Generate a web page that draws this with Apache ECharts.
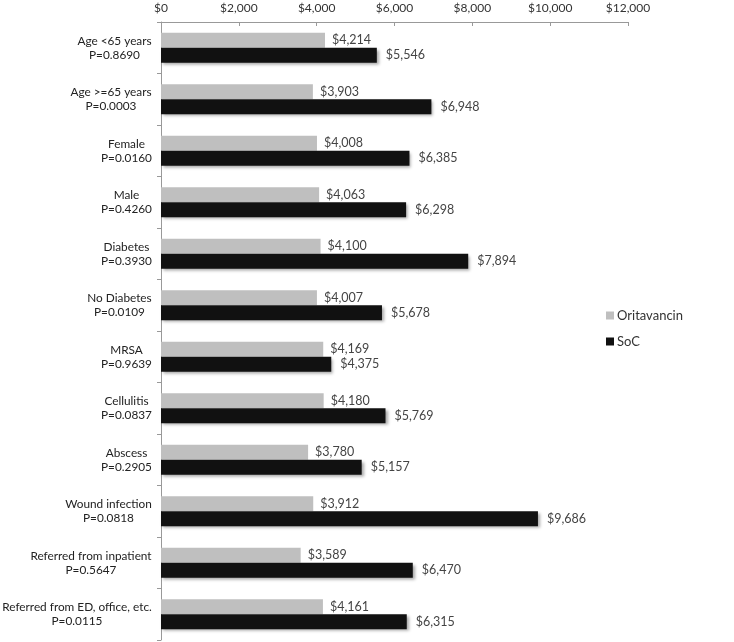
<!DOCTYPE html>
<html><head><meta charset="utf-8">
<script src="https://cdn.jsdelivr.net/npm/echarts@6/dist/echarts.min.js"></script>
<style>html,body{margin:0;padding:0;background:#fff}#c{width:734px;height:642px}</style>
</head><body><div id="c"></div>
<script>
const categories = ["Age <65 years","Age >=65 years","Female","Male","Diabetes","No Diabetes","MRSA","Cellulitis","Abscess","Wound infection","Referred from inpatient","Referred from ED, office, etc."];
const pValues = ["P=0.8690","P=0.0003","P=0.0160","P=0.4260","P=0.3930","P=0.0109","P=0.9639","P=0.0837","P=0.2905","P=0.0818","P=0.5647","P=0.0115"];
const oritavancin = [4214,3903,4008,4063,4100,4007,4169,4180,3780,3912,3589,4161];
const soc = [5546,6948,6385,6298,7894,5678,4375,5769,5157,9686,6470,6315];
const xTicks = [0,2000,4000,6000,8000,10000,12000];

const font = 'Lato';
const ySize = 11.8;
const money = v => '$' + Number(v).toLocaleString('en-US');
const cv = document.createElement('canvas').getContext('2d');
cv.font = ySize + 'px ' + font;
const rich = {};
categories.forEach((c,i)=>{
  const w = Math.ceil(Math.max(cv.measureText(c).width, cv.measureText(pValues[i]).width));
  rich['r'+i] = {width:w, align:'center', fontFamily:font, fontSize:ySize, color:'#222', lineHeight:14};
});
const chart = echarts.init(document.getElementById('c'));
chart.setOption({
  animation:false,
  textStyle:{fontFamily:font},
  grid:{left:161,right:106,top:22,bottom:2,outerBoundsMode:'none',containLabel:false},
  legend:{orient:'vertical',left:601,top:304,itemWidth:8,itemHeight:8,itemGap:13,icon:'rect',
    textStyle:{fontFamily:font,fontSize:13,color:'#333',padding:[0,0,0,-2]},data:['Oritavancin','SoC']},
  xAxis:{type:'value',position:'top',min:xTicks[0],max:xTicks[xTicks.length-1],interval:xTicks[1]-xTicks[0],
    axisLine:{show:true,lineStyle:{color:'#999'}},axisTick:{show:true,inside:true,length:4,lineStyle:{color:'#999'}},
    splitLine:{show:false},
    axisLabel:{fontFamily:font,fontSize:12,color:'#333',margin:8,formatter:v=>money(v)}},
  yAxis:{type:'category',inverse:true,data:categories,
    axisLine:{lineStyle:{color:'#999'}},axisTick:{show:true,length:4,lineStyle:{color:'#999'}},
    axisLabel:{margin:9,align:'right',formatter:(v,i)=>'{r'+i+'|'+v+'}\n{r'+i+'|'+pValues[i]+'}',rich:rich}},
  series:[
    {name:'Oritavancin',type:'bar',data:oritavancin,barWidth:15,barGap:'0%',
      itemStyle:{color:'#bfbfbf'},
      label:{show:true,position:'right',distance:7,formatter:p=>money(p.value),fontFamily:font,fontSize:12.5,color:'#444'}},
    {name:'SoC',type:'bar',data:soc,barWidth:15,
      itemStyle:{color:'#111',shadowBlur:3,shadowOffsetX:2,shadowOffsetY:2,shadowColor:'rgba(0,0,0,0.35)'},
      label:{show:true,position:'right',distance:9,formatter:p=>money(p.value),fontFamily:font,fontSize:12.5,color:'#444'}}
  ]
});
</script></body></html>
